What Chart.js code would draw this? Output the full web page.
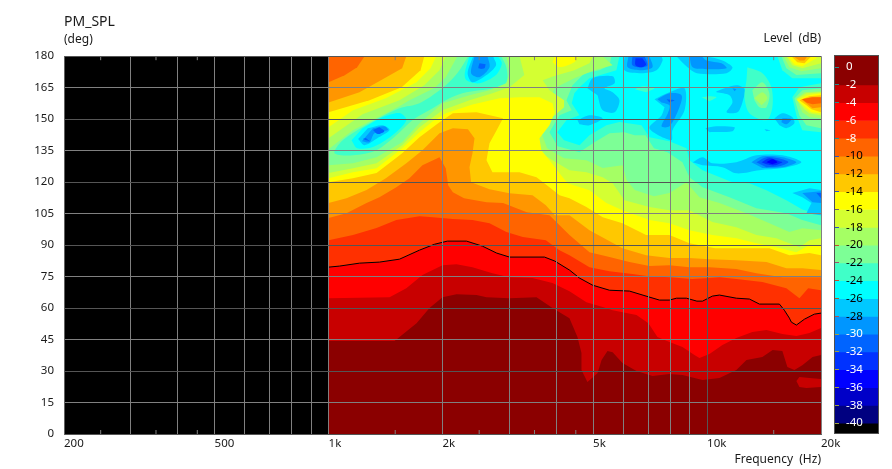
<!DOCTYPE html>
<html>
<head>
<meta charset="utf-8">
<title>PM_SPL</title>
<script src="https://cdn.jsdelivr.net/npm/chart.js@4"></script>
<style>
  body { margin: 0; background: #fff; }
  #polar { position: absolute; left: 0; top: 0; }
  #colorbar { position: absolute; left: 825px; top: 0; }
</style>
</head>
<body>
<canvas id="polar" width="892" height="469"></canvas>
<canvas id="colorbar" width="67" height="469"></canvas>
<script>
'use strict';
// axis values
const angleTicks = [0, 15, 30, 45, 60, 75, 90, 105, 120, 135, 150, 165, 180];
const freqLines = [200, 300, 400, 500, 600, 700, 800, 900, 1000, 2000, 3000, 4000, 5000, 6000, 7000, 8000, 9000, 10000, 20000];
const freqMinor = [250, 350, 450, 1500, 2500, 3500, 4500, 15000];
const freqLabels = { 200: '200', 500: '500', 1000: '1k', 2000: '2k', 5000: '5k', 10000: '10k', 20000: '20k' };

// colour bar, top to bottom
const levelTicks = [0, -2, -4, -6, -8, -10, -12, -14, -16, -18, -20, -22, -24, -26, -28, -30, -32, -34, -36, -38, -40];
const levelEdges = [1.24, -2, -4, -6, -8, -10, -12, -14, -16, -18, -20, -22, -24, -26, -28, -30, -32, -34, -36, -38, -40, -41.1];
const levelColors = ['#8b0000', '#c80000', '#ff0000', '#ff3000', '#ff6400', '#ff9600', '#ffc800', '#ffff00', '#d4ff32', '#a5ff64',
  '#7dff96', '#40ffc8', '#00ffff', '#00c8ff', '#0096ff', '#0064ff', '#0032ff', '#0000ff', '#0000c8', '#000080', '#000000'];

// measured range and contours, [Hz, deg]
const noData = [[200, 0], [1000, 0], [1000, 180], [200, 180]];
const measured = [[1000, 0], [20000, 0], [20000, 180], [1000, 180]];

// the -6 dB line, also drawn in black
const lineM6 = [[1000,79.5],[1069,80],[1207,81.4],[1363,81.9],[1540,83.3],[1739,87.6],[1905,90.4],[2060,91.9],[2315,91.9],[2550,89.5],[2780,86.2],[3006,84.3],[3720,84.3],[3960,82.4],[4330,78.1],[4602,74.3],[4985,70.9],[5523,68.5],[6237,68.1],[6900,65.7],[7486,63.8],[7955,63.8],[8300,64.7],[8820,64.7],[9400,63.3],[9730,63.3],[10330,65.7],[10782,66.2],[11950,64.7],[12940,64.3],[13752,61.9],[15530,61.9],[16000,59],[16504,55.2],[16700,53.3],[17220,51.9],[18080,54.7],[19200,57.1],[20000,57.6]];

// lower region, each one closes down to 0 deg
const lowM2 = [[1000,44.3],[1494,44.3],[1708,52.8],[1848,60],[2000,65.2],[2178,66.6],[2460,66.2],[2614,65.2],[3006,64.7],[3543,65.2],[3905,60],[4330,55.2],[4546,46.2],[4658,38.6],[4658,30.5],[4830,24.8],[5135,29],[5264,35.2],[5457,39.5],[5630,39],[5978,33.8],[6510,30],[7175,27.6],[7955,28.6],[8610,28.1],[9730,25.7],[10782,26.7],[11950,30.5],[12710,35.2],[14000,36.7],[14900,40],[15810,39.5],[16300,31.9],[17010,30.5],[17850,32.8],[19000,36.7],[20000,37.6]];
const lowM4 = [[1000,64.7],[1449,65.2],[1605,69.5],[1770,75.7],[2000,80.4],[2178,80.9],[2400,79.5],[2710,76.6],[3006,74.7],[3458,74.3],[3905,71.9],[4330,68],[4800,62.8],[5300,60.5],[5630,59],[6510,56.7],[7000,52.8],[7395,46.2],[7955,43.8],[8610,41.4],[9260,37.6],[9547,36.2],[10146,38.1],[10980,42.4],[11950,45.7],[13170,48.6],[14350,49.5],[15810,47.6],[17220,46.7],[18640,48.1],[20000,50.5]];
const lowM8 = [[1000,92.3],[1160,94.8],[1339,98.1],[1510,101.9],[1739,103.8],[1885,103.3],[2130,102.4],[2400,101.9],[2662,100.4],[2950,96.2],[3260,93.8],[3750,92.3],[4075,87.6],[4330,85.2],[4890,79.5],[5523,77.6],[6350,76.2],[7000,75.2],[7955,74.7],[9140,73.8],[10146,74.3],[10782,74.7],[11950,73.8],[14000,72.4],[16200,69.5],[17539,64.7],[18500,69.5],[20000,68.5]];
const lowM10 = [[1000,102.9],[1115,105.2],[1260,110],[1363,112.8],[1510,117.6],[1636,121.9],[1770,128],[1964,131.9],[2040,126.6],[2070,118.5],[2130,115.2],[2280,112.3],[2614,110.4],[2890,110],[3340,105.7],[3834,104.2],[4330,94.8],[4890,86.6],[5523,84.3],[6237,81.9],[7044,80],[7955,80.4],[8984,79.5],[10146,79.5],[11950,78.6],[13500,76.6],[15810,74.7],[17850,74.7],[20000,74.7]];
const lowM12 = [[1000,110],[1115,112.3],[1260,116.2],[1417,121.9],[1605,129],[1770,135.2],[1964,143.3],[2130,145.7],[2335,145.2],[2430,140.9],[2400,133.8],[2357,127.1],[2380,120],[2662,116.6],[3006,114.7],[3458,113.8],[3750,109],[3960,104.2],[4330,104.2],[4890,97.1],[5978,88.5],[6900,85.2],[7955,83.8],[8984,83.8],[10146,83.3],[11950,82.8],[14350,81.9],[16200,79],[17850,79],[20000,78.1]];
const lowM14 = [[1000,120],[1160,121.9],[1339,124.3],[1565,133.8],[1739,141.4],[1964,148.5],[2130,152.8],[2460,153.3],[2890,150.4],[2780,144.7],[2662,138.5],[2614,130.4],[2710,124.7],[3195,124.7],[3543,122.3],[3834,117.6],[4075,113.8],[4330,112.3],[4800,108.1],[5300,103.3],[5978,100.4],[6900,94.8],[7955,94.8],[8984,90.9],[10500,88.5],[12400,88.5],[14614,88.5],[16504,85.2],[18640,86.2],[20000,85.2]];
const lowM16 = [[1000,121.9],[1160,124.7],[1339,126.6],[1565,136.2],[1739,143.8],[1885,149],[2040,152.8],[2400,157],[2829,160],[3195,160.4],[3608,160.4],[3905,157.6],[3960,153.3],[3834,147.1],[3608,140.9],[3650,135.2],[3834,130.4],[4075,124.2],[4280,119.5],[4890,116.1],[5420,110],[5978,106.6],[7044,101.9],[7955,100.4],[8984,97.1],[10330,94.8],[11950,93.3],[13500,90.9],[15240,89],[17220,86.6],[18640,90],[20000,90]];
const lowM18 = [[1000,124.3],[1160,126.6],[1339,129],[1565,137.6],[1739,146.2],[2000,154.3],[2357,159],[2710,162.3],[3006,165.2],[3290,171],[3195,180],[5000,180],[4890,176.6],[4460,173.3],[3930,170.4],[3680,168.5],[3834,163.8],[4190,159],[4190,155.7],[3905,150.9],[3760,148],[3543,140.9],[3560,135.2],[3905,130.4],[4330,125.7],[4800,124.7],[5300,122.3],[5630,119.5],[6050,111.4],[7044,108.1],[7955,106.6],[8984,106.6],[10330,101],[11950,98.5],[13500,94.8],[15240,93.3],[17540,89],[18640,92.3],[20000,93.3]];
const lowM20 = [[1000,128],[1160,129],[1339,131.9],[1565,139],[1739,148],[2000,157.6],[2357,161.4],[2662,163.8],[2950,167.1],[3006,171.9],[2950,180],[5300,180],[5630,175.7],[5040,173.3],[4460,169.5],[3960,164.8],[3834,159],[3940,154.3],[3760,150.5],[3630,144.7],[3780,136.2],[4190,131.4],[4800,130.4],[5300,126.7],[5978,128],[6130,121],[6440,116.2],[7240,113.3],[7955,114.8],[8820,120],[9547,112.8],[10782,110],[12710,105.2],[14614,100.4],[16504,96.2],[17850,98],[20000,97.1]];
const patchM2 = [[17220,25.2],[17539,27.1],[18640,26.7],[20000,26.2],[20000,22.4],[18300,21.9],[17539,22.4]];
const blobM16 = [[3960,180],[4546,180],[4460,177.1],[4075,174.8],[3905,177.1]];

// hot wedge in the top left corner, closes at 1 kHz / 180 deg
const wedgeM8 = [[1245,180],[1190,174.7],[1103,170.9],[1000,167.6]];
const wedgeM10 = [[1605,180],[1565,174.2],[1390,169],[1207,162.8],[1000,158]];
const wedgeM12 = [[1790,180],[1750,173.3],[1560,165.2],[1283,159],[1000,153.3]];
const wedgeM14 = [[1925,180],[1860,174.2],[1708,167.6],[1417,160],[1160,154.3],[1000,146.2]];
const wedgeM16 = [[2040,180],[1964,173.3],[1790,166.2],[1540,159],[1230,152.4],[1000,140.9]];
const wedgeM18 = [[2190,180],[2040,170],[1905,164.8],[1636,159],[1540,156.2],[1160,144.7],[1000,135.7]];

// trough running from the left edge to the top
const troughM22 = [[2340,180],[2190,172],[2000,164.8],[1739,157.6],[1540,155.2],[1283,148.1],[1090,140],[1037,133.8],[1160,132.8],[1339,135.2],[1510,142.3],[1665,149.5],[1885,155.2],[2087,160],[2315,162.8],[2710,164.7],[2950,167.6],[2950,174.7],[2860,180]];
const troughM24 = [[1150,140],[1190,136.2],[1310,136.7],[1475,142.3],[1605,149.5],[1540,152.9],[1390,150.9],[1230,145.7]];
const troughM26 = [[1197,140.5],[1245,137.6],[1348,141],[1449,144.8],[1390,147.1],[1270,145.7]];
const troughM28 = [[1225,139.5],[1283,139],[1322,143.3],[1435,144.8],[1404,146.6],[1310,145.7]];
const troughM30a = [[1310,144.8],[1348,142.9],[1404,144.3],[1363,146.1]];
const troughM30b = [[1230,140.5],[1283,139.5],[1255,141]];
const peakM24 = [[2357,180],[2290,171.9],[2315,168.5],[2505,167.1],[2770,171],[2870,176.6],[2800,180]];
const peakM26 = [[2410,180],[2330,171.9],[2400,167.6],[2614,171],[2770,175.7],[2720,180]];
const peakM28 = [[2430,180],[2380,171.9],[2505,170],[2662,174.7],[2630,180]];
const peakM30 = [[2505,176.6],[2490,174.2],[2580,174.2],[2600,176.2]];

// upper right pool
const poolM22 = [[5590,180],[5523,175.7],[5197,173.3],[4745,171.9],[4410,166.1],[4250,159],[4390,154.3],[4075,151.9],[3834,143.8],[4030,137.1],[4602,134.2],[5040,139],[5523,143.3],[6050,143.8],[6440,142.3],[6880,142.3],[7240,136.1],[7860,134.2],[8610,129.5],[8984,122.3],[9730,117.6],[11460,112.8],[13500,107.6],[16200,105.2],[17850,102],[20000,99.5],[20000,180]];
const poolM24 = [[5869,180],[5760,173.3],[5420,171.9],[4890,169.5],[4602,165.2],[4460,162.4],[4390,157.6],[4602,151.9],[4250,149.5],[4020,143.8],[4190,140],[4602,137.6],[4890,142.3],[5420,147.1],[5869,148.6],[6710,147.1],[7044,141.4],[7955,139.5],[8820,136.1],[8984,130.4],[9730,125.7],[11660,120],[12940,119.5],[14350,116.1],[16200,111.4],[17850,107],[20000,104.2],[20000,180]];
const topA26 = [[6050,180],[6050,173.3],[6710,171.9],[7350,173.3],[7630,178],[7580,180]];
const topA28 = [[6200,180],[6170,174.7],[6710,173.3],[7175,174.7],[7044,180]];
const topA30 = [[6350,180],[6350,175.7],[6710,174.7],[6960,175.7],[6840,180]];
const topA32 = [[6470,179],[6470,175.7],[6710,174.7],[6900,176],[6750,179]];
const topB26 = [[8300,180],[8880,174.7],[9400,171.9],[11260,171.9],[11670,174.7],[10980,178],[9970,180]];
const topB28 = [[8984,180],[9160,174.7],[9970,173.8],[11260,174.2],[10920,176.6],[9970,178],[9670,180]];
const leftA26 = [[4830,164.7],[4985,169.5],[5630,170.4],[5700,167.1],[5360,164.7],[5630,162.8],[5869,159],[5700,153.3],[5300,154.2],[5135,161.4]];
const leftB26 = [[4546,149.5],[4890,151.9],[5300,150.4],[4890,147.1],[4602,147.6]];
const midA26 = [[7265,159.5],[7955,162.8],[8720,164.7],[8720,154.2],[8100,144.7],[8050,140],[7044,145.7],[7580,151.8],[7720,155.7]];
const midA28 = [[7395,159.5],[7955,162.3],[8560,161.4],[8454,155.7],[7955,146.6],[7580,146.6],[7880,152.8],[7955,156.6],[7580,158]];
const midA30 = [[7820,159.5],[8200,159],[7955,158]];
const rightA26 = [[10590,163.3],[11950,166.1],[12560,164.2],[12400,158],[12030,153.3],[11260,153.3],[11670,158],[11458,161.4],[10590,162.8]];
const rightA28 = [[11670,164.7],[11950,164.2],[11820,163.3]];
const streakA26 = [[9900,145.7],[10590,146.6],[11820,146.1],[11670,144.2],[10146,143.8]];
const streakB26 = [[14180,145.2],[14700,144.7],[14350,144.2]];
const ringA26 = [[15060,150.4],[15810,152.8],[16800,150.9],[17010,148],[16200,145.7],[15530,147.1]];
const ringA28 = [[15810,150.4],[16700,150],[16200,147.6],[15720,148.5]];
const coreA26 = [[9160,129.5],[9730,131.9],[10330,129],[11950,129.5],[13500,132.8],[15810,132.8],[17750,129.5],[15810,126.7],[13752,125.7],[11950,124.2],[10980,127.1],[9730,128]];
const coreA28 = [[13100,129.5],[14000,132.3],[15810,131.9],[17220,129.5],[15810,127.1],[14000,126.7]];
const coreA30 = [[13500,129.5],[14350,131.9],[15720,131],[16400,129.5],[15530,127.6],[14350,127.1]];
const coreA32 = [[13930,129.5],[14614,131.4],[15530,130],[15810,129.5],[15060,128],[14350,128.5]];
const coreA34 = [[14350,129.5],[14880,130.9],[15340,129.5],[14880,128.5]];
const edgeA26 = [[16800,114.8],[18639,117.1],[20000,116.2],[20000,104.2],[18300,105.2],[18870,110],[17850,112.8]];
const edgeA28 = [[17850,114.8],[20000,115.7],[20000,110],[18990,110.4]];
const edgeA30 = [[19450,114.8],[20000,114.8],[20000,112.3]];

// warm spots inside the pool, right edge
const hotA22 = [[15340,180],[15810,173.3],[16800,169.5],[20000,169.5],[20000,180]];
const hotA20 = [[15720,180],[16200,174.2],[17220,171],[20000,171.9],[20000,180]];
const hotA18 = [[15910,180],[16504,174.7],[17750,172.8],[20000,174.2],[20000,180]];
const hotA16 = [[16200,180],[16800,175.7],[17850,174.2],[20000,176.6],[20000,180]];
const hotA14 = [[16300,180],[17010,176],[17850,175.2],[19450,179],[19450,180]];
const hotA12 = [[16700,180],[17320,177.1],[18080,176.6],[18870,180]];
const hotA10 = [[16900,180],[17539,178],[18080,178],[18410,180]];
const hotB22 = [[16800,160.4],[17539,165.2],[20000,167.1],[20000,143.8],[17850,144.7],[17220,151.8]];
const hotB20 = [[17010,159.9],[17850,163.8],[20000,164.7],[20000,145.7],[18300,147.1],[17539,151.8]];
const hotB18 = [[17220,159.9],[18080,162.8],[20000,163.3],[20000,150.4],[18639,150.9],[17850,153.3]];
const hotB16 = [[17220,159.5],[18300,162.3],[20000,162.8],[20000,151.8],[18639,152.8],[18080,154.7]];
const hotB14 = [[17320,159],[18410,161.4],[20000,162.3],[20000,152.8],[18870,153.3],[18190,155.7]];
const hotB12 = [[17539,159],[18639,160.9],[20000,161.4],[20000,153.3],[18870,154.7],[18300,156.6]];
const hotB10 = [[17750,159.5],[18870,160.4],[20000,160.4],[20000,155.7],[18990,155.2],[18300,157.6]];
const hotB8 = [[17850,159.5],[18990,160.4],[20000,160.4],[20000,157.6],[18990,157.1],[18300,158]];
const isleA22 = [[12780,174.7],[14000,171.9],[14790,165.2],[14880,155.7],[14350,149.5],[12940,152.8],[12560,160.4],[12710,168.5]];
const isleA20 = [[13170,163.8],[14000,167.6],[14614,162.3],[14350,155.7],[13752,155.7],[13340,159]];
const isleA18 = [[13340,160],[14000,162.8],[14440,160],[13930,156.6]];
const spotA22 = [[9670,160.4],[10146,160.9],[10590,160.4],[10146,158.5]];
const spotB22 = [[6440,164.2],[6750,165.7],[7265,164.7],[6900,162.8]];

// painted in this order, later shapes cover earlier ones: [contour, index into levelColors, closing]
const paintOrder = [
  [measured, 10, 'sharp'],
  [troughM22, 11], [poolM22, 11, 'sharp'], [poolM24, 12, 'sharp'],
  [troughM24, 12], [troughM26, 13], [troughM28, 14], [troughM30a, 15], [troughM30b, 15],
  [peakM24, 12], [peakM26, 13], [peakM28, 14], [peakM30, 15],
  [topA26, 13], [topA28, 14], [topA30, 15], [topA32, 16],
  [topB26, 13], [topB28, 14],
  [leftA26, 13], [leftB26, 13],
  [midA26, 13], [midA28, 14], [midA30, 15],
  [rightA26, 13], [rightA28, 14], [streakA26, 13], [streakB26, 13],
  [ringA26, 13], [ringA28, 14],
  [coreA26, 13], [coreA28, 14], [coreA30, 15], [coreA32, 16], [coreA34, 17],
  [edgeA26, 13, 'sharp'], [edgeA28, 14, 'sharp'], [edgeA30, 15, 'sharp'],
  [isleA22, 11], [isleA20, 10], [isleA18, 9], [spotA22, 11], [spotB22, 11],
  [hotA22, 11, 'sharp'], [hotA20, 10, 'sharp'], [hotA18, 9, 'sharp'], [hotA16, 8, 'sharp'], [hotA14, 7, 'sharp'], [hotA12, 6, 'sharp'], [hotA10, 5, 'sharp'],
  [hotB22, 11, 'sharp'], [hotB20, 10, 'sharp'], [hotB18, 9, 'sharp'], [hotB16, 8, 'sharp'], [hotB14, 7, 'sharp'], [hotB12, 6, 'sharp'], [hotB10, 5, 'sharp'], [hotB8, 4, 'sharp'],
  [wedgeM18, 9, 'corner'], [wedgeM16, 8, 'corner'], [wedgeM14, 7, 'corner'], [wedgeM12, 6, 'corner'], [wedgeM10, 5, 'corner'], [wedgeM8, 4, 'corner'],
  [lowM20, 9, 'floor'], [lowM18, 8, 'floor'], [blobM16, 7], [lowM16, 7, 'floor'], [lowM14, 6, 'floor'], [lowM12, 5, 'floor'], [lowM10, 4, 'floor'],
  [lowM8, 3, 'floor'], [lineM6, 2, 'floor'], [lowM4, 1, 'floor'], [lowM2, 0, 'floor'], [patchM2, 1, 'sharp'],
];

const toPoints = list => list.map(p => ({ x: p[0], y: p[1] }));

function closeContour(contour, mode) {
  if (mode === 'floor') return [...contour, [20000, 0], [1000, 0]];
  if (mode === 'corner') return [...contour, [1000, 180]];
  return contour;
}

function filledShape(contour, color, tension) {
  return {
    data: toPoints(contour),
    showLine: true,
    fill: 'shape',
    backgroundColor: color,
    borderColor: color,
    borderWidth: 0,
    pointRadius: 0,
    tension,
  };
}

const datasets = [filledShape(noData, '#000000', 0)];
paintOrder.forEach(item => {
  // free standing islands get rounded, shapes that lean on the plot edge stay straight
  const tension = item[2] ? 0 : 0.3;
  datasets.push(filledShape(closeContour(item[0], item[2]), levelColors[item[1]], tension));
});

// black -6 dB curve
datasets.push({
  data: toPoints(lineM6),
  showLine: true,
  fill: false,
  borderColor: '#000000',
  borderWidth: 1,
  pointRadius: 0,
  tension: 0,
});

// short marks at top and bottom for the in-between frequencies
freqMinor.forEach(f => {
  [[0, 1.9], [178.1, 180]].forEach(span => {
    datasets.push({
      data: [{ x: f, y: span[0] }, { x: f, y: span[1] }],
      showLine: true,
      fill: false,
      borderColor: '#808080',
      borderWidth: 1,
      pointRadius: 0,
    });
  });
});

// Chart.js paints the first dataset last
datasets.reverse();

const textColor = '#1a1a1a';
const fontName = '"Noto Sans", sans-serif';
const gridLight = '#808080';
const gridDark = '#555555';

const levelCaption = {
  id: 'levelCaption',
  afterDraw(chart) {
    const { ctx } = chart;
    ctx.save();
    ctx.font = `12px ${fontName}`;
    ctx.fillStyle = textColor;
    ctx.textAlign = 'right';
    ctx.textBaseline = 'middle';
    ctx.fillText('Level  (dB)', chart.chartArea.right, 39);
    ctx.restore();
  },
};

new Chart(document.getElementById('polar'), {
  type: 'scatter',
  data: { datasets },
  plugins: [levelCaption],
  options: {
    responsive: false,
    animation: false,
    events: [],
    layout: { padding: { left: 0, right: 71, top: 0, bottom: 0 } },
    plugins: {
      legend: { display: false },
      tooltip: { enabled: false },
      title: {
        display: true,
        text: 'PM_SPL',
        align: 'start',
        fullSize: false,
        color: textColor,
        font: { family: fontName, size: 14, weight: 'normal' },
        padding: { top: 14, bottom: 2 },
      },
      subtitle: {
        display: true,
        text: '(deg)',
        align: 'start',
        fullSize: false,
        color: textColor,
        font: { family: fontName, size: 12, weight: 'normal' },
        padding: { top: 0, bottom: 9 },
      },
    },
    scales: {
      x: {
        type: 'logarithmic',
        min: 200,
        max: 20000,
        afterBuildTicks: axis => {
          axis.ticks = freqLines.map(v => ({ value: v }));
        },
        afterFit: axis => {
          axis.height = 35;
        },
        ticks: {
          autoSkip: false,
          maxRotation: 0,
          align: 'start',
          padding: 3,
          color: textColor,
          font: { family: fontName, size: 11.5 },
          callback: value => freqLabels[value] || '',
        },
        grid: {
          z: 1,
          color: ctx => (ctx.tick && ctx.tick.value === 10000 ? gridDark : gridLight),
          lineWidth: 1,
          drawTicks: false,
        },
        border: { z: 1, color: '#606060' },
        title: {
          display: true,
          text: 'Frequency  (Hz)',
          align: 'end',
          color: textColor,
          font: { family: fontName, size: 12 },
          padding: { top: 0, bottom: 2 },
        },
      },
      y: {
        type: 'linear',
        min: 0,
        max: 180,
        afterBuildTicks: axis => {
          axis.ticks = angleTicks.map(v => ({ value: v }));
        },
        afterFit: axis => {
          axis.width = 64;
        },
        ticks: {
          padding: 10,
          color: textColor,
          font: { family: fontName, size: 11.5 },
        },
        grid: {
          z: 1,
          color: ctx => (ctx.tick && ctx.tick.value % 30 === 0 ? gridDark : gridLight),
          lineWidth: 1,
          drawTicks: false,
        },
        border: { z: 1, color: '#606060' },
      },
    },
  },
});

// colour bar as floating bars on its own small chart
const barOutline = {
  id: 'barOutline',
  afterDraw(chart) {
    const { ctx, chartArea: a } = chart;
    ctx.save();
    ctx.strokeStyle = '#505050';
    ctx.lineWidth = 1;
    ctx.strokeRect(a.left - 0.5, a.top - 0.5, a.right - a.left + 1, a.bottom - a.top + 1);
    ctx.restore();
  },
};

const tickMarkColors = ['#2a8a8a', '#2a8a8a', '#2a8a8a', '#2a7090', '#2a8a8a', '#3050c0', '#3050c0', '#3050c0', '#706070', '#3050c0',
  '#c05030', '#a05070', '#c05030', '#a06030', '#b05050', '#a0a040', '#a0a040', '#a0a040', '#a0a040', '#a0a040', '#a0a040'];

new Chart(document.getElementById('colorbar'), {
  type: 'bar',
  data: {
    labels: ['Level'],
    datasets: levelColors.map((color, i) => ({
      data: [[levelEdges[i + 1], levelEdges[i]]],
      backgroundColor: color,
      grouped: false,
      barPercentage: 1,
      categoryPercentage: 1,
    })),
  },
  plugins: [barOutline],
  options: {
    responsive: false,
    animation: false,
    events: [],
    layout: { padding: { left: 10, right: 14, top: 56, bottom: 36 } },
    plugins: { legend: { display: false }, tooltip: { enabled: false } },
    scales: {
      x: { display: false },
      y: {
        min: -41.1,
        max: 1.24,
        afterBuildTicks: axis => {
          axis.ticks = levelTicks.map(v => ({ value: v }));
        },
        afterFit: axis => {
          axis.width = 0;
        },
        ticks: {
          z: 2,
          mirror: true,
          padding: 11,
          font: { family: fontName, size: 11.5 },
          color: ctx => {
            const v = ctx.tick.value;
            return v >= -8 || v <= -30 ? '#ffffff' : '#000000';
          },
        },
        grid: {
          z: 1,
          drawOnChartArea: false,
          tickLength: -4,
          tickColor: tickMarkColors,
        },
        border: { display: false },
      },
    },
  },
});
</script>
</body>
</html>
